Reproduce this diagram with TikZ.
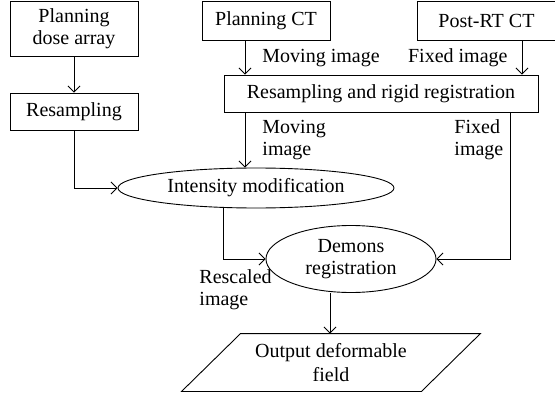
\documentclass[tikz,border=0pt]{standalone}
\usepackage{fontspec}
\setmainfont{Liberation Serif}
\usetikzlibrary{arrows.meta,shapes.geometric,calc}
\begin{document}
\begin{tikzpicture}[x=1pt,y=-1pt,
  line width=0.9pt,
  every node/.style={font=\fontsize{20}{21.5}\selectfont, inner sep=0pt},
  box/.style={draw, rectangle, align=center},
  oval/.style={draw, ellipse, align=center},
  lbl/.style={align=left},
  tight/.style={font=\fontsize{20}{21}\selectfont},
  arr/.style={-{Straight Barb[length=6pt,width=12pt]}}]
\useasboundingbox (0,0) rectangle (555,396);
\clip (0,0) rectangle (555,396);
% boxes
\node[box, minimum width=128pt, minimum height=55pt] (dose) at (74,28.5) {Planning\\dose array};
\node[box, minimum width=128pt, minimum height=37pt] (resamp) at (74,111.5) {Resampling};
\node[box, minimum width=128pt, minimum height=39pt] (pct) at (266,20.5) {Planning CT};
\node[box, minimum width=139pt, minimum height=39pt] (post) at (486.5,20.5) {Post-RT CT};
\node[box, minimum width=314pt, minimum height=37pt] (rigid) at (381,93.5) {Resampling and rigid registration};
\node[oval, minimum width=276pt, minimum height=40pt] (inten) at (256,188) {Intensity modification};
\node[oval, minimum width=170pt, minimum height=67pt] (demons) at (351,259) {Demons\\registration};
\node[align=center, minimum width=239pt, minimum height=57pt, font=\fontsize{20}{24}\selectfont] (out) at (331,362.5) {Output deformable\\field};
\draw ([xshift=29.5pt]out.north west) -- ([xshift=29.5pt]out.north east)
  -- ([xshift=-29.5pt]out.south east) -- ([xshift=-29.5pt]out.south west) -- cycle;
% helper coordinates
\coordinate (mx) at (245,0);
\coordinate (fx) at (510,0);
\coordinate (px) at (522,0);
\coordinate (ix) at (223,0);
\coordinate (ox) at (330,0);
% connectors
\draw[arr] (dose) -- (resamp);
\draw[arr] (resamp.south) |- (inten.west);
\draw[arr] (pct.south -| mx) -- (rigid.north -| mx);
\draw[arr] (post.south -| px) -- (rigid.north -| px);
\draw[arr] (rigid.south -| mx) -- (inten.north -| mx);
\draw[arr] (rigid.south -| fx) |- (demons.east);
\draw[arr] (inten.south -| ix) |- (demons.west);
\draw[arr] (demons.south -| ox) -- (out.north -| ox);
% labels
\node[anchor=base west] (lm1) at (262,63) {Moving image};
\node[anchor=base east] (lf1) at (508,63) {Fixed image};
\node[lbl, tight, anchor=base west] (lm2) at (262,155) {Moving\\image};
\node[lbl, tight, anchor=base west] (lf2) at (454,155) {Fixed\\image};
\node[lbl, anchor=base west] (lr) at (199,305) {Rescaled\\image};
\end{tikzpicture}
\end{document}
